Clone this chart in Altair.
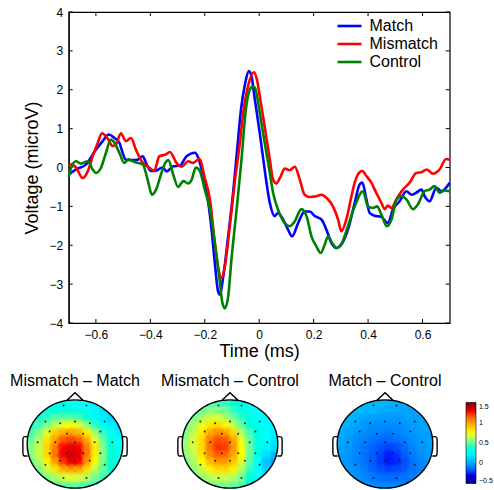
import altair as alt
import pandas as pd

FONT = "Liberation Sans"

# ---------------- ERP waveforms ----------------
match_t = [-0.7, -0.673, -0.636, -0.6, -0.575, -0.553, -0.532, -0.514, -0.502, -0.49, -0.471, -0.447,
           -0.428, -0.416, -0.398, -0.38, -0.355, -0.34, -0.316, -0.291, -0.267, -0.236, -0.224, -0.206,
           -0.187, -0.175, -0.163, -0.151, -0.145, -0.132, -0.114, -0.096, -0.081, -0.067, -0.052, -0.038,
           -0.027, -0.016, 0.002, 0.02, 0.039, 0.057, 0.069, 0.088, 0.106, 0.121, 0.143, 0.167, 0.186,
           0.204, 0.229, 0.247, 0.265, 0.284, 0.302, 0.326, 0.351, 0.369, 0.379, 0.394, 0.406, 0.424,
           0.449, 0.473, 0.491, 0.516, 0.541, 0.559, 0.577, 0.596, 0.608, 0.626, 0.651, 0.669, 0.7]
match_v = [-0.18, -0.05, 0.08, 0.46, 0.68, 0.85, 0.76, 0.64, 0.38, 0.2, 0.19, 0.2,
           0.29, 0.12, -0.09, -0.08, 0.0, -0.1, 0.03, 0.05, 0.29, 0.38, 0.25, -0.22,
           -0.91, -1.6, -2.46, -3.19, -3.27, -2.8, -1.77, -0.65, 0.46, 1.49, 2.15, 2.48,
           2.3, 1.75, 0.89, -0.05, -0.91, -1.25, -1.17, -1.34, -1.6, -1.77, -1.43, -1.13, -1.13,
           -1.25, -1.34, -1.6, -1.94, -2.07, -1.98, -1.6, -0.91, -0.44, -0.39, -0.82, -1.17, -1.24,
           -1.27, -1.43, -1.08, -0.87, -0.61, -0.7, -0.65, -0.57, -0.74, -0.87, -0.52, -0.61, -0.39]

mismatch_t = [-0.7, -0.691, -0.673, -0.649, -0.63, -0.612, -0.593, -0.578, -0.557, -0.538, -0.526, -0.508,
              -0.49, -0.471, -0.453, -0.428, -0.404, -0.386, -0.367, -0.345, -0.328, -0.304, -0.285, -0.261,
              -0.243, -0.22, -0.2, -0.181, -0.163, -0.147, -0.138, -0.126, -0.108, -0.09, -0.071, -0.057,
              -0.04, -0.019, -0.008, 0.002, 0.02, 0.039, 0.051, 0.063, 0.076, 0.094, 0.112, 0.131, 0.149,
              0.167, 0.186, 0.21, 0.229, 0.247, 0.271, 0.29, 0.302, 0.32, 0.339, 0.351, 0.369, 0.379,
              0.394, 0.412, 0.43, 0.449, 0.461, 0.473, 0.486, 0.504, 0.528, 0.553, 0.577, 0.596, 0.616,
              0.638, 0.663, 0.687, 0.7]
mismatch_v = [0.03, 0.08, 0.0, -0.27, -0.1, 0.29, 0.64, 0.88, 0.75, 0.55, 0.6, 0.88,
              0.68, 0.76, 0.46, 0.12, 0.0, -0.09, 0.29, 0.33, 0.4, 0.12, 0.02, 0.16,
              0.12, 0.22, -0.27, -0.82, -1.94, -2.71, -2.84, -2.54, -1.51, -0.39, 0.64, 1.49,
              2.12, 2.45, 2.25, 1.84, 1.06, 0.21, -0.31, -0.41, -0.27, -0.03, -0.07, 0.02, -0.31,
              -0.7, -0.76, -0.74, -0.7, -0.78, -1.0, -1.34, -1.64, -1.34, -0.74, -0.39, -0.12, -0.09,
              -0.22, -0.39, -0.65, -0.91, -1.07, -0.98, -1.04, -0.82, -0.57, -0.39, -0.14, -0.12, -0.05,
              -0.16, -0.05, 0.22, 0.2]

control_t = [-0.7, -0.691, -0.673, -0.655, -0.63, -0.612, -0.6, -0.581, -0.563, -0.545, -0.532, -0.514,
             -0.496, -0.48, -0.465, -0.447, -0.428, -0.41, -0.394, -0.379, -0.361, -0.345, -0.334, -0.316,
             -0.298, -0.279, -0.261, -0.248, -0.233, -0.218, -0.2, -0.181, -0.163, -0.147, -0.135, -0.126,
             -0.114, -0.102, -0.083, -0.065, -0.049, -0.037, -0.025, -0.016, 0.002, 0.02, 0.039, 0.051,
             0.069, 0.094, 0.112, 0.131, 0.155, 0.174, 0.192, 0.21, 0.226, 0.241, 0.253, 0.268, 0.284,
             0.304, 0.326, 0.351, 0.381, 0.4, 0.418, 0.433, 0.449, 0.469, 0.486, 0.504, 0.522, 0.541,
             0.565, 0.583, 0.608, 0.626, 0.644, 0.663, 0.681, 0.7]
control_v = [-0.25, 0.0, 0.16, 0.1, 0.16, -0.05, -0.14, 0.0, 0.38, 0.72, 0.64, 0.38,
             0.12, 0.21, 0.16, 0.12, 0.08, -0.31, -0.7, -0.57, -0.18, 0.12, 0.19, -0.18,
             -0.5, -0.35, -0.41, -0.31, 0.0, -0.09, -0.57, -1.08, -1.94, -2.8, -3.49, -3.62,
             -3.32, -2.37, -1.08, 0.21, 1.49, 1.95, 2.08, 2.05, 1.41, 0.64, -0.14, -0.65,
             -1.08, -1.43, -1.51, -1.38, -1.07, -1.25, -1.77, -2.03, -2.2, -1.98, -1.77, -1.94, -2.07,
             -1.94, -1.51, -1.0, -0.61, -1.0, -1.04, -1.0, -1.21, -1.51, -1.34, -0.84, -0.74, -0.82,
             -1.07, -0.95, -0.61, -0.57, -0.48, -0.65, -0.59, -0.61]

series_names = ["Match", "Mismatch", "Control"]
series_colors = ["#0000ff", "#ff0000", "#008000"]
x_ticks = [-0.6, -0.4, -0.2, 0.0, 0.2, 0.4, 0.6]
y_ticks = [-4, -3, -2, -1, 0, 1, 2, 3, 4]

# ---------------- scalp maps (12 x 12 grid, rows top->bottom, cols left->right) ----------------
map_titles = ["Mismatch \u2013 Match", "Mismatch \u2013 Control", "Match \u2013 Control"]
map1_grid = [
    [0.30, 0.30, 0.30, 0.30, 0.30, 0.30, 0.28, 0.25, 0.20, 0.15, 0.10, 0.10],
    [0.32, 0.32, 0.33, 0.35, 0.36, 0.36, 0.33, 0.28, 0.22, 0.15, 0.10, 0.08],
    [0.35, 0.38, 0.42, 0.47, 0.50, 0.50, 0.46, 0.38, 0.30, 0.20, 0.13, 0.10],
    [0.40, 0.45, 0.55, 0.65, 0.72, 0.75, 0.70, 0.58, 0.42, 0.30, 0.20, 0.15],
    [0.45, 0.55, 0.70, 0.88, 0.97, 1.00, 0.95, 0.80, 0.60, 0.42, 0.28, 0.20],
    [0.50, 0.62, 0.82, 1.00, 1.15, 1.20, 1.15, 0.98, 0.72, 0.50, 0.33, 0.25],
    [0.55, 0.66, 0.86, 1.08, 1.25, 1.30, 1.27, 1.08, 0.80, 0.55, 0.36, 0.28],
    [0.55, 0.66, 0.86, 1.10, 1.27, 1.34, 1.30, 1.10, 0.80, 0.55, 0.38, 0.30],
    [0.50, 0.60, 0.78, 1.00, 1.20, 1.28, 1.25, 1.02, 0.75, 0.52, 0.38, 0.30],
    [0.45, 0.52, 0.65, 0.82, 0.95, 1.00, 0.98, 0.85, 0.65, 0.48, 0.36, 0.30],
    [0.40, 0.45, 0.52, 0.60, 0.68, 0.70, 0.68, 0.62, 0.52, 0.42, 0.35, 0.30],
    [0.38, 0.40, 0.42, 0.45, 0.48, 0.50, 0.48, 0.45, 0.42, 0.38, 0.33, 0.30],
]
map2_grid = [
    [0.40, 0.40, 0.42, 0.45, 0.45, 0.42, 0.38, 0.33, 0.28, 0.25, 0.22, 0.20],
    [0.42, 0.45, 0.50, 0.55, 0.55, 0.50, 0.42, 0.35, 0.30, 0.25, 0.22, 0.20],
    [0.45, 0.52, 0.60, 0.68, 0.68, 0.62, 0.52, 0.42, 0.33, 0.27, 0.22, 0.20],
    [0.50, 0.60, 0.72, 0.82, 0.85, 0.78, 0.65, 0.50, 0.38, 0.30, 0.24, 0.20],
    [0.55, 0.65, 0.80, 0.98, 1.05, 1.00, 0.85, 0.62, 0.45, 0.33, 0.25, 0.20],
    [0.58, 0.68, 0.85, 1.08, 1.18, 1.15, 0.98, 0.72, 0.50, 0.35, 0.25, 0.18],
    [0.58, 0.68, 0.85, 1.10, 1.22, 1.20, 1.02, 0.75, 0.52, 0.35, 0.22, 0.15],
    [0.55, 0.65, 0.82, 1.05, 1.15, 1.12, 0.98, 0.75, 0.50, 0.32, 0.15, 0.05],
    [0.52, 0.60, 0.75, 0.92, 1.00, 1.00, 0.90, 0.70, 0.48, 0.28, 0.08, 0.00],
    [0.48, 0.55, 0.65, 0.78, 0.85, 0.85, 0.78, 0.62, 0.42, 0.25, 0.10, 0.02],
    [0.45, 0.50, 0.55, 0.62, 0.66, 0.66, 0.62, 0.52, 0.38, 0.25, 0.15, 0.10],
    [0.42, 0.45, 0.48, 0.50, 0.52, 0.52, 0.50, 0.45, 0.35, 0.25, 0.20, 0.15],
]
map3_grid = [
    [0.04, 0.04, 0.04, 0.04, 0.04, 0.04, 0.02, 0.02, 0.02, 0.00, -0.01, -0.01],
    [0.04, 0.04, 0.04, 0.04, 0.04, 0.02, 0.00, 0.00, 0.00, -0.01, -0.01, -0.01],
    [0.04, 0.04, 0.02, 0.00, -0.01, -0.02, -0.03, -0.03, -0.02, -0.01, -0.01, -0.01],
    [0.04, 0.02, -0.01, -0.04, -0.06, -0.06, -0.06, -0.06, -0.04, -0.02, -0.01, -0.01],
    [0.02, -0.01, -0.04, -0.06, -0.08, -0.09, -0.10, -0.09, -0.06, -0.03, -0.01, -0.01],
    [0.00, -0.02, -0.06, -0.09, -0.11, -0.13, -0.14, -0.12, -0.09, -0.06, -0.03, -0.01],
    [-0.01, -0.04, -0.08, -0.11, -0.14, -0.18, -0.20, -0.18, -0.13, -0.08, -0.04, -0.02],
    [-0.02, -0.04, -0.08, -0.12, -0.16, -0.21, -0.24, -0.22, -0.16, -0.10, -0.06, -0.03],
    [-0.02, -0.04, -0.08, -0.12, -0.16, -0.21, -0.24, -0.23, -0.18, -0.12, -0.08, -0.04],
    [-0.01, -0.03, -0.06, -0.10, -0.14, -0.18, -0.20, -0.19, -0.16, -0.11, -0.08, -0.04],
    [0.00, -0.02, -0.04, -0.07, -0.10, -0.12, -0.13, -0.13, -0.11, -0.08, -0.06, -0.03],
    [0.00, -0.01, -0.03, -0.04, -0.06, -0.07, -0.08, -0.08, -0.07, -0.06, -0.04, -0.02],
]
elec_x = [-0.24, 0.24, -0.62, -0.31, 0.0, 0.31, 0.62, -0.53, -0.17, 0.17, 0.53, -0.78, -0.41, 0.0,
          0.41, 0.78, -0.53, -0.17, 0.17, 0.53, -0.62, -0.31, 0.0, 0.31, 0.62, -0.24, 0.24]
elec_y = [0.87, 0.87, 0.51, 0.47, 0.51, 0.47, 0.51, 0.28, 0.23, 0.23, 0.28, 0.04, 0.04, 0.04,
          0.04, 0.04, -0.21, -0.21, -0.21, -0.21, -0.47, -0.38, -0.38, -0.38, -0.47, -0.77, -0.77]
colorbar_ticks = [-0.5, 0, 0.5, 1, 1.5]
jet_stops = [-0.5, -0.25, 0.25, 0.75, 1.25, 1.5]
jet_colors = ["#00007f", "#0000ff", "#00ffff", "#ffff00", "#ff0000", "#7f0000"]

# ---------------- line chart ----------------
rows = []
for name, ts, vs in zip(series_names, [match_t, mismatch_t, control_t], [match_v, mismatch_v, control_v]):
    for t, v in zip(ts, vs):
        rows.append({"series": name, "t": t, "v": v})
erp = pd.DataFrame(rows)

W, H = 381, 311
xs = alt.Scale(domain=[-0.7, 0.7], nice=False, zero=False)
ys = alt.Scale(domain=[-4, 4], nice=False, zero=False)
x_axis = alt.Axis(values=x_ticks, format="~g", title="Time (ms)", ticks=False, grid=False,
                  labelPadding=6, titlePadding=2, domainColor="black", domainWidth=1.2)
y_axis = alt.Axis(values=y_ticks, format="d", title="Voltage (microV)", ticks=False, grid=False,
                  labelPadding=6, titlePadding=8, domainColor="black", domainWidth=1.2)


def X(field):
    return alt.X(field, type="quantitative", scale=xs, axis=x_axis)


def Y(field):
    return alt.Y(field, type="quantitative", scale=ys, axis=y_axis)


LEGEND_LINE = "M-1.412,0L1.412,0"
color = alt.Color("series:N", scale=alt.Scale(domain=series_names, range=series_colors),
                  legend=alt.Legend(title=None, orient="none", legendX=319.5, legendY=4,
                                    symbolType=LEGEND_LINE, symbolSize=289, symbolStrokeWidth=2.6,
                                    labelFontSize=16, labelFont=FONT, labelColor="black",
                                    labelOffset=10, rowPadding=0, padding=0))

layers = []
xt = pd.DataFrame({"t": x_ticks})
yt = pd.DataFrame({"v": y_ticks})
layers.append(alt.Chart(xt).mark_rule(color="black", strokeWidth=1).encode(
    x=X("t"), y=alt.value(H), y2=alt.value(H - 4)))
layers.append(alt.Chart(xt).mark_rule(color="black", strokeWidth=1).encode(
    x=X("t"), y=alt.value(0), y2=alt.value(4)))
layers.append(alt.Chart(yt).mark_rule(color="black", strokeWidth=1).encode(
    y=Y("v"), x=alt.value(0), x2=alt.value(4)))
layers.append(alt.Chart(yt).mark_rule(color="black", strokeWidth=1).encode(
    y=Y("v"), x=alt.value(W), x2=alt.value(W - 4)))
for name in series_names:
    layers.append(alt.Chart(erp).transform_filter(alt.datum.series == name)
                  .mark_line(strokeWidth=2.6, interpolate="monotone")
                  .encode(x=X("t"), y=Y("v"), color=color))

line_chart = alt.layer(*layers).properties(
    width=W, height=H, view=alt.ViewBackground(stroke="black", strokeWidth=1.2))

spacer = alt.Chart(alt.Data(values=[{}])).mark_point(opacity=0).encode(
    x=alt.value(0), y=alt.value(0)).properties(width=1, height=1)

top_row = alt.hconcat(spacer, line_chart, spacing=47.7, bounds="flush")

# ---------------- scalp map panels ----------------
PW, PH = 110, 98
XD = [-1.15, 1.15]
YD = [-1.02, 1.2]
px_x = PW / (XD[1] - XD[0])
px_y = PH / (YD[1] - YD[0])
k = px_y / px_x
hxs = alt.Scale(domain=XD, nice=False, zero=False)
hys = alt.Scale(domain=YD, nice=False, zero=False)
jet = alt.Scale(domain=jet_stops, range=jet_colors, clamp=True)


def ellipse_path(ry):
    c = 0.5523
    return (f"M-1,0C-1,{-c*ry:.4f},{-c:.4f},{-ry:.4f},0,{-ry:.4f}"
            f"C{c:.4f},{-ry:.4f},1,{-c*ry:.4f},1,0"
            f"C1,{c*ry:.4f},{c:.4f},{ry:.4f},0,{ry:.4f}"
            f"C{-c:.4f},{ry:.4f},-1,{c*ry:.4f},-1,0Z")


head_path = (ellipse_path(k)
             + f"M-0.174,{-k*0.985:.4f}L0,-1.073L0.174,{-k*0.985:.4f}"
             + "M-0.99,-0.15C-1.08,-0.16,-1.09,-0.15,-1.09,-0.08L-1.09,0.18C-1.09,0.25,-1.08,0.26,-0.99,0.25"
             + "M0.99,-0.15C1.08,-0.16,1.09,-0.15,1.09,-0.08L1.09,0.18C1.09,0.25,1.08,0.26,0.99,0.25")
ring_r = px_x + 2.0
ring_path = ellipse_path((px_y + 2.0) / ring_r)
one = alt.Data(values=[{}])
elec = pd.DataFrame({"ex": elec_x, "ey": elec_y})


def head_panel(title, grid, legend):
    n = len(grid)
    step = 2.0 / n
    ov = 0.012
    cells = []
    soft = []
    for r, row in enumerate(grid):
        ytop = 1 - r * step
        ybot = ytop - step
        for c, val in enumerate(row):
            xl = -1 + c * step
            xr = xl + step
            nx = 0.0 if xl <= 0 <= xr else min(abs(xl), abs(xr))
            ny = 0.0 if ybot <= 0 <= ytop else min(abs(ybot), abs(ytop))
            if nx * nx + ny * ny >= 1:
                continue
            hx = (1 - ny * ny) ** 0.5
            hy = (1 - nx * nx) ** 0.5
            cells.append({"x0": max(xl, -hx), "x1": min(xr + ov, hx),
                          "y0": max(ybot - ov, -hy), "y1": min(ytop, hy), "v": val})
            cx, cy = (xl + xr) / 2, (ybot + ytop) / 2
            if cx * cx + cy * cy < 0.8:
                soft.append({"cx": cx, "cy": cy, "v": val})
    cdf = pd.DataFrame(cells)
    sdf = pd.DataFrame(soft)
    heat = alt.Chart(cdf).mark_rect().encode(
        x=alt.X("x0:Q", scale=hxs, axis=None), x2="x1",
        y=alt.Y("y0:Q", scale=hys, axis=None), y2="y1",
        color=alt.Color("v:Q", scale=jet, legend=legend, title=None))
    blur = alt.Chart(sdf).mark_circle(size=150, opacity=0.45).encode(
        x=alt.X("cx:Q", scale=hxs, axis=None), y=alt.Y("cy:Q", scale=hys, axis=None),
        color=alt.Color("v:Q", scale=jet, legend=None))
    ring = alt.Chart(one).mark_point(shape=ring_path, size=(2 * ring_r) ** 2, filled=False,
                                     color="white", strokeWidth=4, opacity=1).encode(
        x=alt.XDatum(0, scale=hxs, axis=None), y=alt.YDatum(0, scale=hys, axis=None))
    head = alt.Chart(one).mark_point(shape=head_path, size=(2 * px_x) ** 2, filled=False,
                                     color="black", strokeWidth=1.4, opacity=1).encode(
        x=alt.XDatum(0, scale=hxs, axis=None), y=alt.YDatum(0, scale=hys, axis=None))
    dots = alt.Chart(elec).mark_circle(size=4, color="#1a1a1a", opacity=0.9).encode(
        x=alt.X("ex:Q", scale=hxs, axis=None), y=alt.Y("ey:Q", scale=hys, axis=None))
    return alt.layer(heat, blur, ring, head, dots).properties(
        width=PW, height=PH,
        title=alt.TitleParams(title, fontSize=16, font=FONT, fontWeight="normal",
                              anchor="middle", offset=1, color="black"))


cbar = alt.Legend(type="gradient", orient="none", legendX=136, legendY=11.5, direction="vertical",
                  gradientLength=81, gradientThickness=10, values=colorbar_ticks, format=".1~f",
                  labelFontSize=7, labelFont=FONT, labelColor="black", labelOffset=3,
                  labelOverlap=False, padding=0, gradientStrokeColor="black",
                  gradientStrokeWidth=0.6, gradientOpacity=1)

panels = [head_panel(map_titles[0], map1_grid, None),
          head_panel(map_titles[1], map2_grid, None),
          head_panel(map_titles[2], map3_grid, cbar)]
bottom_row = alt.hconcat(*panels, spacing=45, bounds="flush").resolve_scale(
    color="independent")

chart = alt.vconcat(top_row, bottom_row, spacing=11).resolve_scale(
    color="independent").properties(
    padding={"left": 10, "top": 5, "right": 0, "bottom": 0}
).configure_view(stroke=None).configure_axis(
    labelFont=FONT, labelFontSize=12, labelColor="black",
    titleFont=FONT, titleFontSize=18, titleFontWeight="normal", titleColor="black"
)

chart.save("out.html", embed_options={"renderer": "svg", "actions": False})
